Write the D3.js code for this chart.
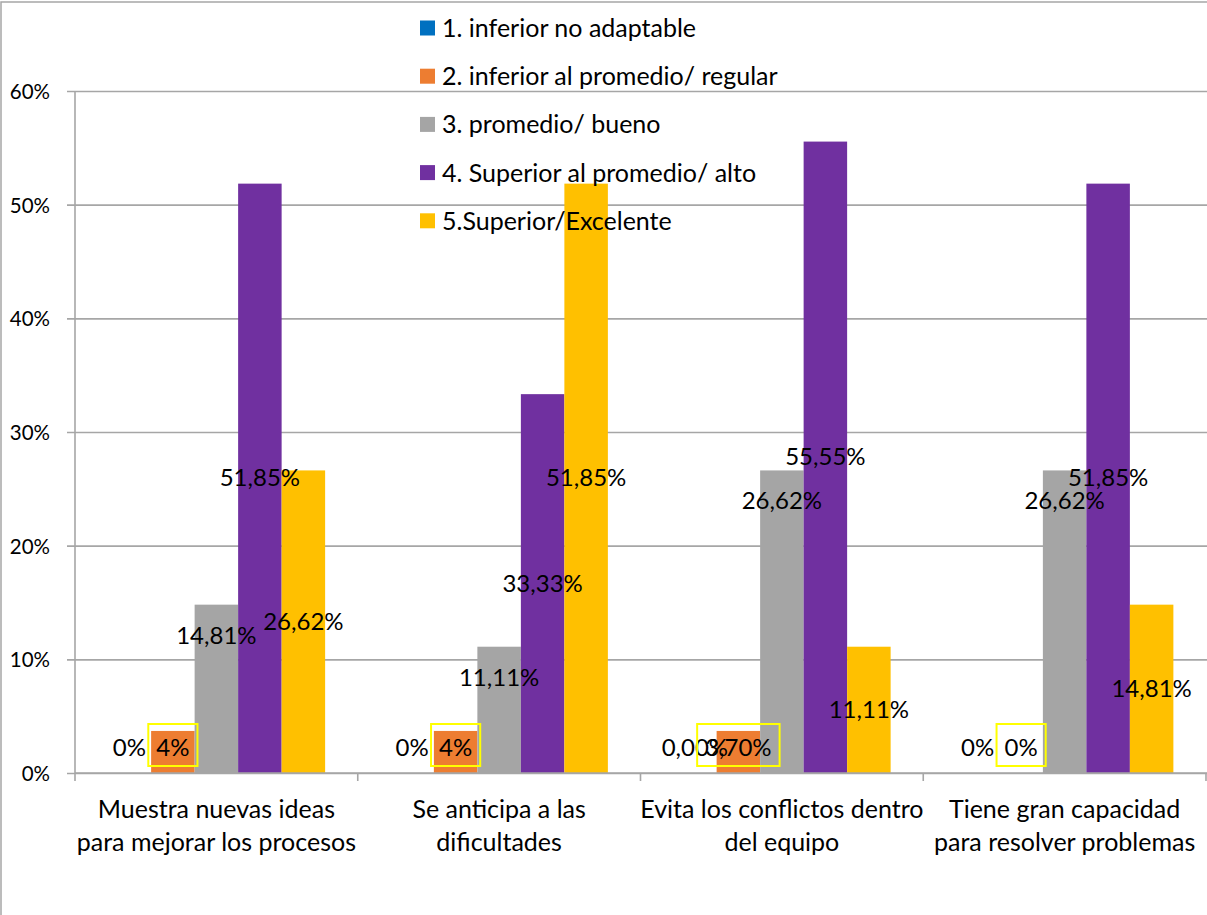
<!DOCTYPE html>
<html>
<head>
<meta charset="utf-8">
<script src="https://cdn.jsdelivr.net/npm/d3@7"></script>
<style>
  body { margin: 0; background: #fff; }
  svg { display: block; }
  text { font-family: Lato, "Open Sans", sans-serif; fill: #000; }
</style>
</head>
<body>
<svg id="chart" width="1207" height="915"></svg>
<script>
// ---- data ----
const categories = [
  ["Muestra nuevas ideas", "para mejorar los procesos"],
  ["Se anticipa a las", "dificultades"],
  ["Evita los conflictos dentro", "del equipo"],
  ["Tiene gran capacidad", "para resolver problemas"]
];
const seriesNames = [
  "1. inferior no adaptable",
  "2. inferior al promedio/ regular",
  "3. promedio/ bueno",
  "4. Superior al promedio/ alto",
  "5.Superior/Excelente"
];
const seriesColors = ["#0070C0", "#ED7D31", "#A5A5A5", "#7030A0", "#FFC000"];

const inferiorNoAdaptable = [0, 0, 0, 0];
const inferiorRegular     = [0.037, 0.037, 0.037, 0];
const promedioBueno       = [0.1481, 0.1111, 0.2662, 0.2662];
const superiorAlto        = [0.5185, 0.3333, 0.5555, 0.5185];
const superiorExcelente   = [0.2662, 0.5185, 0.1111, 0.1481];

const yTicks = [0, 0.1, 0.2, 0.3, 0.4, 0.5, 0.6];

// number format of each data label, per category, per series
const labelFormats = [
  [".0%", ".0%", ".2%", ".2%", ".2%"],
  [".0%", ".0%", ".2%", ".2%", ".2%"],
  [".2%", ".2%", ".2%", ".2%", ".2%"],
  [".0%", ".0%", ".2%", ".2%", ".2%"]
];

// ---- setup ----
const seriesValues = [inferiorNoAdaptable, inferiorRegular, promedioBueno, superiorAlto, superiorExcelente];
const W = 1207, H = 915;
const plot = { left: 75, right: 1206, top: 91, bottom: 773 };
const svg = d3.select("#chart");

const esLocale = d3.formatLocale({ decimal: ",", thousands: ".", grouping: [3], currency: ["", " €"] });

const catIdx = d3.range(categories.length);
const x0 = d3.scaleBand().domain(catIdx).range([plot.left, plot.right]).padding(0);
const bw = x0.bandwidth();
// gap between clusters = 150% of a bar width
const barW = bw / (seriesValues.length + 1.5);
const x1 = d3.scaleBand().domain(d3.range(seriesValues.length))
  .range([barW * 0.75, bw - barW * 0.75]).padding(0);
const y = d3.scaleLinear().domain([0, 0.6]).range([plot.bottom, plot.top]);

// outer frame
svg.append("rect")
  .attr("x", 1).attr("y", 2).attr("width", W + 10).attr("height", H + 10)
  .attr("fill", "none").attr("stroke", "#a6a6a6").attr("stroke-width", 1.5);

// value axis with gridlines
const gridStart = plot.left - 8;
const yAxis = d3.axisLeft(y)
  .tickValues(yTicks)
  .tickFormat(d3.format(".0%"))
  .tickSize(-(W - gridStart))
  .tickPadding(17);
const yg = svg.append("g").attr("transform", `translate(${gridStart},0)`).call(yAxis);
yg.select(".domain").remove();
yg.selectAll(".tick line").attr("stroke", "#a6a6a6").attr("stroke-width", 1.6);
yg.selectAll(".tick text")
  .attr("font-size", 20.5).attr("font-family", "Lato, sans-serif").attr("fill", "#000")
  .attr("dy", "0.36em");

// vertical axis line
svg.append("line")
  .attr("x1", plot.left).attr("x2", plot.left)
  .attr("y1", plot.top).attr("y2", plot.bottom)
  .attr("stroke", "#a6a6a6").attr("stroke-width", 1.6);

// bars
const barData = [];
catIdx.forEach(c => seriesValues.forEach((vals, s) => barData.push({ c, s, v: vals[c] })));

svg.append("g").selectAll("rect")
  .data(barData)
  .join("rect")
  .attr("x", d => x0(d.c) + x1(d.s))
  .attr("width", x1.bandwidth())
  .attr("y", d => y(d.v))
  .attr("height", d => y(0) - y(d.v))
  .attr("fill", d => seriesColors[d.s]);

// category axis
svg.append("line")
  .attr("x1", plot.left).attr("x2", W)
  .attr("y1", plot.bottom).attr("y2", plot.bottom)
  .attr("stroke", "#a6a6a6").attr("stroke-width", 1.6);
const bounds = catIdx.map(c => x0(c)).concat([plot.right]);
svg.append("g").selectAll("line")
  .data(bounds)
  .join("line")
  .attr("x1", d => d).attr("x2", d => d)
  .attr("y1", plot.bottom).attr("y2", plot.bottom + 8)
  .attr("stroke", "#a6a6a6").attr("stroke-width", 1.6);

const catLabels = svg.append("g").selectAll("text")
  .data(catIdx)
  .join("text")
  .attr("text-anchor", "middle")
  .attr("font-size", 25);
catLabels.selectAll("tspan")
  .data(c => categories[c].map((t, i) => ({ t, i, c })))
  .join("tspan")
  .attr("x", d => x0(d.c) + bw / 2)
  .attr("y", d => 818 + d.i * 33)
  .text(d => d.t);

// data labels
function labelBaseline(d) {
  if (d.s <= 1) return y(0) - 17;                 // near the base
  if (d.s === 2) return y(d.v) + 39;              // inside end
  return (y(d.v) + y(0)) / 2 + 8;                 // centred in the bar
}
const labels = svg.append("g").selectAll("text")
  .data(barData)
  .join("text")
  .attr("text-anchor", "middle")
  .attr("font-size", 24)
  .attr("x", d => x0(d.c) + x1(d.s) + x1.bandwidth() / 2)
  .attr("y", labelBaseline)
  .text(d => esLocale.format(labelFormats[d.c][d.s])(d.v));

// highlight boxes around the "regular" labels
const boxG = svg.append("g");
labels.filter(d => d.s === 1).each(function (d) {
  const bb = this.getBBox();
  const base = labelBaseline(d);
  boxG.append("rect")
    .attr("x", bb.x - 8).attr("width", bb.width + 16)
    .attr("y", base - 32).attr("height", 42)
    .attr("fill", "none").attr("stroke", "#FFFF00").attr("stroke-width", 2);
});

// legend
const legend = svg.append("g").attr("transform", "translate(420,0)");
const items = legend.selectAll("g")
  .data(seriesNames)
  .join("g")
  .attr("transform", (d, i) => `translate(0,${28 + i * 48.2})`);
items.append("rect")
  .attr("x", 0).attr("y", -7.5).attr("width", 15).attr("height", 15)
  .attr("fill", (d, i) => seriesColors[i]);
items.append("text")
  .attr("x", 22).attr("y", 9)
  .attr("font-size", 25)
  .text(d => d);
</script>
</body>
</html>
